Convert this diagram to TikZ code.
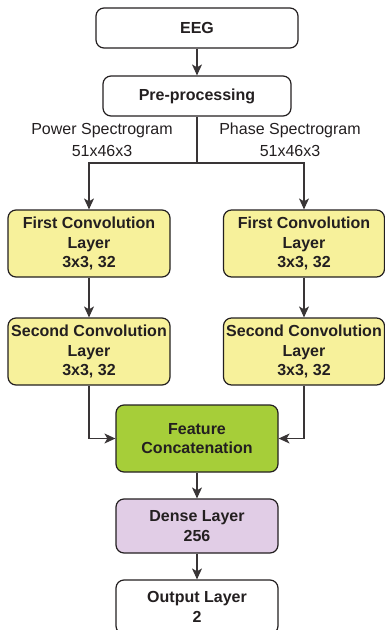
\documentclass[tikz,border=0pt]{standalone}
\usepackage{fontspec}
\setmainfont{Liberation Sans}
\usetikzlibrary{arrows.meta}
\definecolor{ink}{HTML}{231F20}
\definecolor{convyellow}{HTML}{F7F19B}
\definecolor{featgreen}{HTML}{A6CE39}
\definecolor{densepurple}{HTML}{E1CDE6}
\tikzset{
  box/.style={draw=ink, line width=1.2pt, rounded corners=8pt, align=center,
    inner sep=0pt, text=ink, font=\fontsize{16}{19.5}\selectfont\bfseries},
  conn/.style={draw=ink!90, line width=1.1pt, -{Stealth[length=11pt,width=10pt,inset=3pt]}},
  lbl/.style={align=center, text=ink, inner sep=0pt, font=\fontsize{16}{22}\selectfont}
}
\begin{document}
\begin{tikzpicture}[x=1pt,y=-1pt]
\useasboundingbox (0,0) rectangle (385,630);
\node[box, minimum width=202pt, minimum height=40pt] (eeg) at (197,28) {EEG};
\node[box, minimum width=188pt, minimum height=40pt] (pre) at (197,96) {Pre-processing};
\node[lbl] (pow) at (102,140) {Power Spectrogram\\51x46x3};
\node[lbl] (pha) at (290,140) {Phase Spectrogram\\51x46x3};
\node[box, fill=convyellow, minimum width=162pt, minimum height=67pt] (fcl) at (89,243.5) {First Convolution\\Layer\\3x3, 32};
\node[box, fill=convyellow, minimum width=161pt, minimum height=67pt] (fcr) at (304,243.5) {First Convolution\\Layer\\3x3, 32};
\node[box, fill=convyellow, minimum width=162pt, minimum height=67pt] (scl) at (89,351.5) {Second Convolution\\Layer\\3x3, 32};
\node[box, fill=convyellow, minimum width=161pt, minimum height=67pt] (scr) at (304,351.5) {Second Convolution\\Layer\\3x3, 32};
\node[box, fill=featgreen, minimum width=162pt, minimum height=67pt] (feat) at (197,438.5) {Feature\\Concatenation};
\node[box, fill=densepurple, minimum width=162pt, minimum height=54pt] (dense) at (197,526) {Dense Layer\\256};
\node[box, fill=white, minimum width=162pt, minimum height=54pt] (out) at (197,607) {Output Layer\\2};
\coordinate (split) at (197,163);
\draw[conn] (eeg) -- (pre);
\draw[draw=ink!90, line width=1.1pt] (pre.south) -- (split);
\draw[conn] (split) -| (fcl);
\draw[conn] (split) -| (fcr);
\draw[conn] (fcl) -- (scl);
\draw[conn] (fcr) -- (scr);
\draw[conn] (scl.south) |- (feat.west);
\draw[conn] (scr.south) |- (feat.east);
\draw[conn] (feat) -- (dense);
\draw[conn] (dense) -- (out);
\end{tikzpicture}
\end{document}
